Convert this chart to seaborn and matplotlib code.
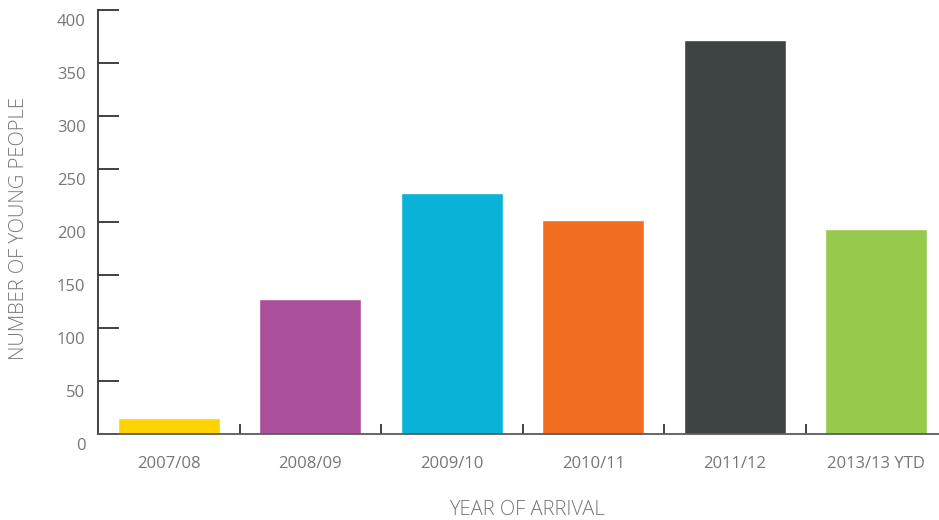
import matplotlib
matplotlib.use("Agg")
import matplotlib.pyplot as plt
import matplotlib.transforms as mtransforms
import seaborn as sns
import pandas as pd
from matplotlib.ticker import FixedLocator

years = ["2007/08", "2008/09", "2009/10", "2010/11", "2011/12", "2013/13 YTD"]
young_people = [15, 127, 227, 202, 372, 193]
bar_colors = ["#FFD200", "#AA4F9A", "#09B2D6", "#F26F22", "#3E4344", "#97C94D"]
y_ticks = [0, 50, 100, 150, 200, 250, 300, 350, 400]

sns.set_theme(style="white")
plt.rcParams["font.family"] = ["Open Sans", "DejaVu Sans"]

df = pd.DataFrame({"year": years, "count": young_people})

fig = plt.figure(figsize=(9.39, 5.2), dpi=100)
ax = fig.add_axes([98 / 939, 1 - 433.5 / 520, 1 - 98 / 939, (433.5 - 10) / 520])

sns.barplot(data=df, x="year", y="count", hue="year", palette=bar_colors,
            legend=False, width=0.72, saturation=1, ax=ax)

ax.set_ylim(0, 400)
ax.set_xlim(-0.5, (939 - 98) / 141.5 - 0.5)
ax.set_yticks(y_ticks)

text_color = "#767676"
axis_color = "#333333"

for side in ["top", "right"]:
    ax.spines[side].set_visible(False)
ax.spines["left"].set_color(axis_color)
ax.spines["left"].set_linewidth(1.3)
ax.spines["bottom"].set_color("#5A5A5A")
ax.spines["bottom"].set_linewidth(1.3)

ax.tick_params(axis="y", left=True, direction="in", length=15, width=1.3,
               color=axis_color, pad=9, labelsize=12, labelcolor=text_color)
ax.tick_params(axis="x", which="major", bottom=False, length=0, pad=16,
               labelsize=12, labelcolor=text_color)
ax.xaxis.set_minor_locator(FixedLocator([i + 0.5 for i in range(len(years) - 1)]))
ax.tick_params(axis="x", which="minor", bottom=True, direction="in", length=7,
               width=1.3, color=axis_color)

# value labels sit slightly below their tick lines
shift_down = mtransforms.ScaledTranslation(0, -10 / 100, fig.dpi_scale_trans)
for lbl in ax.get_yticklabels():
    lbl.set_transform(lbl.get_transform() + shift_down)

ax.set_xlabel("YEAR OF ARRIVAL", fontsize=14.5, color=text_color,
              fontweight="light")
ax.set_ylabel("NUMBER OF YOUNG PEOPLE", fontsize=14.5, color=text_color,
              fontweight="light")
ax.xaxis.set_label_coords((527 - 98) / 841, -(500 - 433.5) / 423.5)
ax.yaxis.set_label_coords(-(98 - 29) / 841, (433.5 - 229) / 423.5)

fig.savefig("out.png", dpi=100)
